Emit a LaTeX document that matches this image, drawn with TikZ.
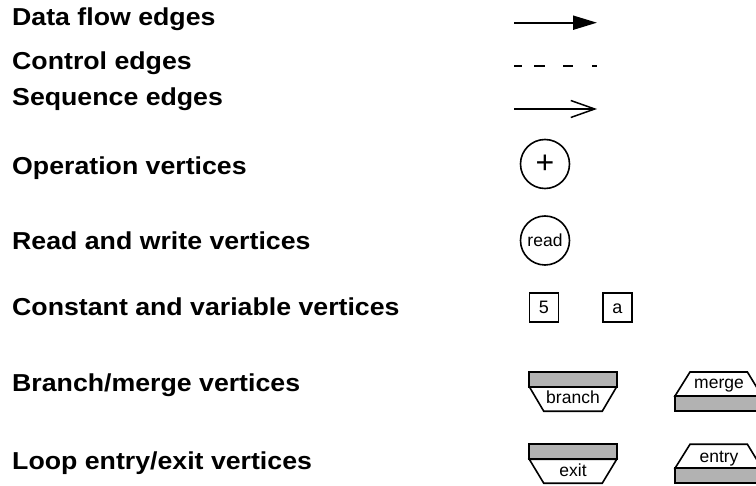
\documentclass[tikz,border=0pt]{standalone}
\usepackage{fontspec}
\setmainfont{Liberation Sans}
\newfontfamily\legendfont{Liberation Sans Bold}[FakeStretch=1.09]
\usetikzlibrary{arrows.meta}
\tikzset{
  legendlabel/.style={anchor=base west, inner sep=0pt,
    font=\legendfont\fontsize{24.5}{28}\selectfont},
  edgeline/.style={line width=2pt},
  opvertex/.style={circle, draw, line width=1.6pt, minimum size=49pt, inner sep=0pt},
  valvertex/.style={rectangle, draw, line width=1.6pt, minimum size=29pt, inner sep=0pt,
    text height=12.7pt, text depth=0pt, font=\fontsize{18}{20}\selectfont},
  smalltext/.style={anchor=base, inner sep=0pt, font=\fontsize{17.5}{20}\selectfont},
  graybar/.style={fill=black!30, draw, line width=2pt},
  trapez/.style={fill=white, draw, line width=1.6pt, line join=miter},
}
\begin{document}
\begin{tikzpicture}[x=1pt, y=-1pt]
  \useasboundingbox (0,0) rectangle (756,486);

  % left column: legend captions
  \node[legendlabel] (l1) at (12,26)  {Data flow edges};
  \node[legendlabel] (l2) at (12,70)  {Control edges};
  \node[legendlabel] (l3) at (12,106) {Sequence edges};
  \node[legendlabel] (l4) at (12,175) {Operation vertices};
  \node[legendlabel] (l5) at (12,250) {Read and write vertices};
  \node[legendlabel] (l6) at (12,316) {Constant and variable vertices};
  \node[legendlabel] (l7) at (12,392) {Branch/merge vertices};
  \node[legendlabel] (l8) at (12,470) {Loop entry/exit vertices};

  % edge samples
  \coordinate (dfA) at (514,22.7);  \coordinate (dfB) at (597,22.7);
  \coordinate (ctA) at (514,65.7);  \coordinate (ctB) at (597,65.7);
  \coordinate (sqA) at (514,109);   \coordinate (sqB) at (597,109);
  \draw[edgeline, -{Triangle[length=24pt,width=14pt]}] (dfA) -- (dfB);
  \draw[edgeline, dash pattern=on 8pt off 12pt on 11pt off 18pt on 10pt off 19pt on 5pt] (ctA) -- (ctB);
  \draw[line width=1.8pt, -{Straight Barb[length=24pt,width=17pt,line width=1.5pt]}] (sqA) -- (sqB);

  % operation and read/write vertices
  \node[opvertex, font=\fontsize{32}{34}\selectfont] (plus) at (545,164) {+};
  \node[opvertex, font=\fontsize{17.5}{20}\selectfont] (rd) at (545,240.5) {read};

  % constant and variable vertices
  \node[valvertex] (five) at (544,307.5) {5};
  \node[valvertex] (var) at (617.5,307.5) {a};

  % branch vertex
  \draw[trapez] (529.3,386.7) -- (616.7,386.7) -- (602.2,411.3) -- (543.8,411.3) -- cycle;
  \draw[graybar] (529.3,371.7) rectangle (616.7,386.7);
  \node[smalltext] (br) at (573,403.5) {branch};

  % merge vertex
  \draw[trapez] (690,372) -- (747.4,372) -- (762,396) -- (675,396) -- cycle;
  \draw[graybar] (675,396) rectangle (762,411);
  \node[smalltext] (mg) at (719,389) {merge};

  % loop exit vertex
  \draw[trapez] (529.3,459.3) -- (616.7,459.3) -- (602.2,483.3) -- (543.8,483.3) -- cycle;
  \draw[graybar] (529.3,444.3) rectangle (616.7,459.3);
  \node[smalltext] (ex) at (573,476.5) {exit};

  % loop entry vertex
  \draw[trapez] (690,444.3) -- (747.4,444.3) -- (762,468.3) -- (675,468.3) -- cycle;
  \draw[graybar] (675,468.3) rectangle (762,483.3);
  \node[smalltext] (en) at (719,462.5) {entry};
\end{tikzpicture}
\end{document}
